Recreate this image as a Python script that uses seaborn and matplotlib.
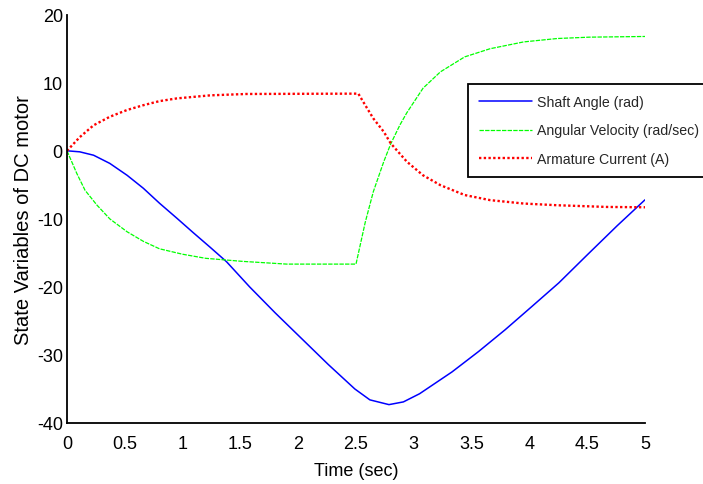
import numpy as np
import pandas as pd
import matplotlib
matplotlib.use("Agg")
import matplotlib.pyplot as plt
import seaborn as sns

# ---- data ----
t_angle = [0, 0.11, 0.23, 0.37, 0.52, 0.66, 0.80, 0.95, 1.09, 1.24, 1.38, 1.58,
           1.80, 2.03, 2.26, 2.49, 2.62, 2.785, 2.91, 3.05, 3.33, 3.56, 3.79,
           4.02, 4.255, 4.50, 4.76, 5.0]
shaft_angle = [0, -0.15, -0.65, -1.85, -3.6, -5.5, -7.7, -9.9, -12.0, -14.2, -16.3,
               -20.0, -23.8, -27.6, -31.4, -35.0, -36.6, -37.3, -36.9, -35.7, -32.5,
               -29.5, -26.3, -22.9, -19.4, -15.3, -11.0, -7.2]

t_vel = [0, 0.084, 0.156, 0.26, 0.37, 0.52, 0.66, 0.80, 1.0, 1.2, 1.52, 1.9, 2.5,
         2.58, 2.65, 2.74, 2.80, 2.88, 2.94, 3.08, 3.23, 3.44, 3.66, 3.95, 4.24,
         4.52, 5.0]
ang_velocity = [0, -3.3, -5.8, -8.0, -10.0, -11.9, -13.3, -14.4, -15.2, -15.8, -16.25,
                -16.65, -16.65, -10.5, -6.0, -1.6, 1.0, 3.8, 5.6, 9.2, 11.6, 13.8,
                15.0, 16.0, 16.5, 16.7, 16.8]

t_cur = [0, 0.11, 0.23, 0.37, 0.52, 0.66, 0.80, 0.95, 1.24, 1.55, 2.52, 2.58, 2.65,
         2.74, 2.80, 2.94, 3.08, 3.23, 3.44, 3.66, 3.95, 4.24, 4.67, 5.0]
arm_current = [0, 2.0, 3.75, 5.0, 6.0, 6.7, 7.3, 7.7, 8.15, 8.35, 8.4, 6.7, 4.75,
               2.8, 1.1, -1.6, -3.6, -5.05, -6.5, -7.25, -7.75, -8.0, -8.25, -8.3]

labels = ["Shaft Angle (rad)", "Angular Velocity (rad/sec)", "Armature Current (A)"]
x_ticks = [0, 0.5, 1, 1.5, 2, 2.5, 3, 3.5, 4, 4.5, 5]
x_tick_labels = ["0", "0.5", "1", "1.5", "2", "2.5", "3", "3.5", "4", "4.5", "5"]
y_ticks = [-40, -30, -20, -10, 0, 10, 20]

sns.set_theme(style="white")
plt.rcParams["font.family"] = ["Liberation Sans", "DejaVu Sans"]
plt.rcParams["axes.unicode_minus"] = False

fig = plt.figure(figsize=(7.03, 4.85), dpi=100)
ax = fig.add_axes([67 / 703, 61 / 485, 578 / 703, 408.3 / 485])

sns.lineplot(x=t_angle, y=shaft_angle, ax=ax, color="#0000ff", linewidth=1.1,
             estimator=None, label=labels[0])
sns.lineplot(x=t_vel, y=ang_velocity, ax=ax, color="#00ff00", linewidth=0.9,
             estimator=None, label=labels[1], linestyle=(0, (3.5, 1.0)))
sns.lineplot(x=t_cur, y=arm_current, ax=ax, color="#ff0000", linewidth=1.7,
             estimator=None, label=labels[2], linestyle=(0, (1, 1)))

ax.set_xlim(0, 5)
ax.set_ylim(-40, 20)
ax.set_xticks(x_ticks)
ax.set_xticklabels(x_tick_labels)
ax.set_yticks(y_ticks)
ax.tick_params(axis="both", direction="in", length=6, width=1.2, colors="black",
               labelsize=13)
ax.tick_params(axis="x", pad=9)
ax.tick_params(axis="y", pad=3)
for side in ["top", "right"]:
    ax.spines[side].set_visible(False)
for side in ["left", "bottom"]:
    ax.spines[side].set_color("black")
    ax.spines[side].set_linewidth(1.3)

ax.set_xlabel("Time (sec)", fontsize=13, color="black", labelpad=7)
ax.set_ylabel("State Variables of DC motor", fontsize=14.5, color="black", labelpad=3)

leg = ax.legend(loc="upper left", bbox_to_anchor=(468 / 703, 1 - 85 / 485),
                bbox_transform=fig.transFigure, frameon=True, fancybox=False,
                edgecolor="black", framealpha=1, borderaxespad=0,
                prop={"family": ["Liberation Sans"], "size": 10.2},
                handlelength=3.7, handletextpad=0.35, borderpad=0.8, labelspacing=1.0)
leg.get_frame().set_linewidth(1.3)

fig.savefig("out.png", dpi=100)
